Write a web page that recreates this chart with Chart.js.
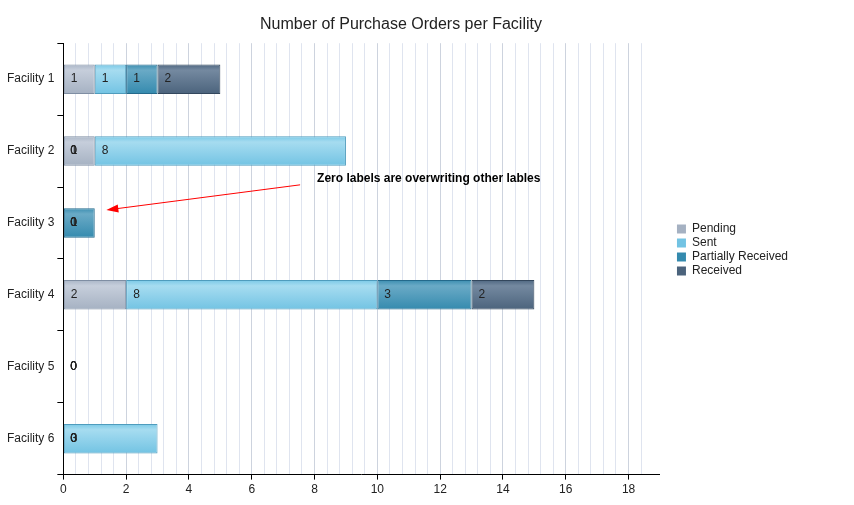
<!DOCTYPE html>
<html>
<head>
<meta charset="utf-8">
<title>Number of Purchase Orders per Facility</title>
<script src="https://cdn.jsdelivr.net/npm/chart.js@4/dist/chart.umd.min.js"></script>
<style>
  body { margin: 0; background: #fff; }
  #wrap { width: 854px; height: 505px; position: relative; }
</style>
</head>
<body>
<div id="wrap"><canvas id="chart"></canvas></div>
<script>
var facilities = ['Facility 1', 'Facility 2', 'Facility 3', 'Facility 4', 'Facility 5', 'Facility 6'];
var pending = [1, 1, 0, 2, 0, 0];
var sent = [1, 8, 0, 8, 0, 3];
var partiallyReceived = [1, 0, 1, 3, 0, 0];
var received = [2, 0, 0, 2, 0, 0];
var xMax = 19;
var xMinorStep = 0.4;
var xLabelStep = 2;
var noteText = 'Zero labels are overwriting other lables';

Chart.defaults.font.family = '"Liberation Sans", Arial, sans-serif';
Chart.defaults.font.size = 12;
Chart.defaults.color = '#333';

// top edge, light band, body, border
var palette = {
    pending: ['#a9b5c6', '#c6cedb', '#a5b1c2', '#7f8ea3'],
    sent: ['#78c8e6', '#a6dcf0', '#72c3e3', '#4f9cbd'],
    partial: ['#3a8db0', '#6aaac6', '#348aae', '#246a8c'],
    received: ['#4d6680', '#7489a0', '#4b637c', '#33475d']
};

function barFill(c) {
    return function (ctx) {
        var yScale = ctx.chart.scales.y;
        if (!yScale || ctx.type !== 'data') return c[2];
        var cy = yScale.getPixelForValue(ctx.dataIndex);
        if (!isFinite(cy)) return c[2];
        var g = ctx.chart.ctx.createLinearGradient(0, cy - 15, 0, cy + 15);
        g.addColorStop(0, c[0]);
        g.addColorStop(0.2, c[1]);
        g.addColorStop(1, c[2]);
        return g;
    };
}

function isMajor(v) {
    var r = Math.round(v);
    return Math.abs(v - r) < 1e-6 && r % xLabelStep === 0;
}

var barLabels = {
    id: 'barLabels',
    afterDatasetsDraw: function (chart) {
        var ctx = chart.ctx;
        var xs = chart.scales.x;
        ctx.save();
        ctx.font = '12px "Liberation Sans", Arial, sans-serif';
        ctx.fillStyle = '#222';
        ctx.textAlign = 'left';
        ctx.textBaseline = 'middle';
        chart.data.datasets.forEach(function (ds, i) {
            var meta = chart.getDatasetMeta(i);
            if (meta.hidden) return;
            meta.data.forEach(function (bar, j) {
                var v = ds.data[j];
                var left = v === 0 ? xs.getPixelForValue(0) : Math.min(bar.x, bar.base);
                ctx.fillText(String(v), left + 7, bar.y);
            });
        });
        ctx.restore();
    }
};

// note and arrow, placed in data units (x value, category index)
var note = { textX: 8.08, textY: 1.38, fromX: 7.54, fromY: 1.47, toX: 1.37, toY: 1.82 };

var noteArrow = {
    id: 'noteArrow',
    afterDatasetsDraw: function (chart) {
        var ctx = chart.ctx;
        var xs = chart.scales.x, ys = chart.scales.y;
        var x1 = xs.getPixelForValue(note.fromX), y1 = ys.getPixelForValue(note.fromY);
        var x2 = xs.getPixelForValue(note.toX), y2 = ys.getPixelForValue(note.toY);
        var a = Math.atan2(y2 - y1, x2 - x1);
        ctx.save();
        ctx.strokeStyle = '#ff0000';
        ctx.fillStyle = '#ff0000';
        ctx.lineWidth = 1;
        ctx.beginPath();
        ctx.moveTo(x1, y1);
        ctx.lineTo(x2 - 10 * Math.cos(a), y2 - 10 * Math.sin(a));
        ctx.stroke();
        ctx.beginPath();
        ctx.moveTo(x2, y2);
        ctx.lineTo(x2 - 12 * Math.cos(a) + 4 * Math.sin(a), y2 - 12 * Math.sin(a) - 4 * Math.cos(a));
        ctx.lineTo(x2 - 12 * Math.cos(a) - 4 * Math.sin(a), y2 - 12 * Math.sin(a) + 4 * Math.cos(a));
        ctx.closePath();
        ctx.fill();
        ctx.font = 'bold 12px "Liberation Sans", Arial, sans-serif';
        ctx.fillStyle = '#000';
        ctx.textAlign = 'left';
        ctx.textBaseline = 'middle';
        ctx.fillText(noteText, xs.getPixelForValue(note.textX), ys.getPixelForValue(note.textY));
        ctx.restore();
    }
};

function makeSet(label, data, c) {
    return {
        label: label,
        data: data,
        backgroundColor: barFill(c),
        borderColor: c[3],
        borderWidth: 1,
        borderSkipped: false,
        barPercentage: 0.41,
        categoryPercentage: 1,
        legendColor: c[2]
    };
}

var ctx = document.getElementById('chart').getContext('2d');
var chart = new Chart(ctx, {
    type: 'bar',
    data: {
        labels: facilities,
        datasets: [
            makeSet('Pending', pending, palette.pending),
            makeSet('Sent', sent, palette.sent),
            makeSet('Partially Received', partiallyReceived, palette.partial),
            makeSet('Received', received, palette.received)
        ]
    },
    options: {
        indexAxis: 'y',
        responsive: true,
        maintainAspectRatio: false,
        animation: false,
        layout: { padding: { left: 4, right: 56, top: 0, bottom: 5 } },
        plugins: {
            title: {
                display: true,
                text: 'Number of Purchase Orders per Facility',
                color: '#222',
                font: { size: 16, weight: 'normal' },
                padding: { top: 15, bottom: 9 }
            },
            legend: {
                position: 'right',
                align: 'center',
                labels: {
                    boxWidth: 9,
                    boxHeight: 9,
                    padding: 2,
                    color: '#222',
                    font: { size: 12 },
                    generateLabels: function (chart) {
                        var items = Chart.defaults.plugins.legend.labels.generateLabels(chart);
                        items.forEach(function (it) {
                            var ds = chart.data.datasets[it.datasetIndex];
                            it.fillStyle = ds.legendColor;
                            it.strokeStyle = ds.legendColor;
                            it.lineWidth = 0;
                        });
                        return items;
                    }
                }
            },
            tooltip: { enabled: false }
        },
        scales: {
            x: {
                type: 'linear',
                stacked: true,
                min: 0,
                max: xMax,
                border: { color: '#000', width: 1 },
                grid: {
                    color: function (c) {
                        var v = c.tick ? c.tick.value : 0;
                        if (v > xMax - 0.1) return 'rgba(0,0,0,0)';
                        return isMajor(v) ? '#cdd3de' : '#dfe4ef';
                    },
                    tickColor: function (c) {
                        var v = c.tick ? c.tick.value : 0;
                        return isMajor(v) ? '#000' : 'rgba(0,0,0,0)';
                    },
                    tickLength: 5
                },
                ticks: {
                    stepSize: xMinorStep,
                    autoSkip: false,
                    maxRotation: 0,
                    color: '#222',
                    padding: 3,
                    callback: function (v) {
                        return isMajor(v) ? String(Math.round(v)) : '';
                    }
                }
            },
            y: {
                type: 'category',
                stacked: true,
                border: { color: '#000', width: 1 },
                grid: {
                    offset: true,
                    drawOnChartArea: false,
                    color: '#000',
                    tickLength: 6
                },
                ticks: { color: '#222', padding: 3 }
            },
            gap: {
                type: 'linear',
                position: 'right',
                display: true,
                grid: { display: false },
                border: { display: false },
                ticks: { display: false },
                afterFit: function (s) { s.width = 15; }
            }
        }
    },
    plugins: [barLabels, noteArrow]
});
</script>
</body>
</html>
